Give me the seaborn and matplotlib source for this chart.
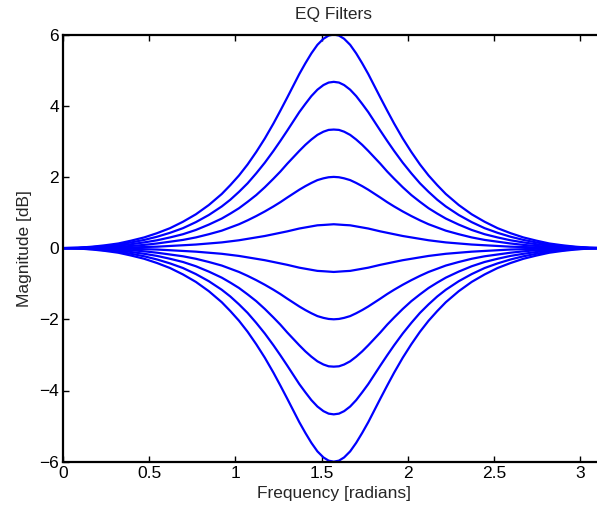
import numpy as np
import pandas as pd
import matplotlib
matplotlib.use("Agg")
import matplotlib.pyplot as plt
import seaborn as sns

# Frequency sample points (radians)
freq = [0, 0.086, 0.171, 0.246, 0.321, 0.396, 0.471, 0.546, 0.621, 0.696, 0.771, 0.846, 0.921,
        0.971, 1.021, 1.071, 1.121, 1.171, 1.221, 1.261, 1.301, 1.336, 1.371, 1.406, 1.441, 1.476,
        1.511, 1.541, 1.5708,
        1.601, 1.631, 1.666, 1.701, 1.736, 1.771, 1.806, 1.841, 1.881, 1.921, 1.971, 2.021, 2.071,
        2.121, 2.171, 2.221, 2.296, 2.371, 2.446, 2.521, 2.596, 2.671, 2.746, 2.821, 2.896, 2.971,
        3.056, 3.1416]

# Boost curves (dB)
boost_6_0 = [0, 0.01, 0.04, 0.08, 0.13, 0.21, 0.30, 0.42, 0.56, 0.74, 0.95, 1.21, 1.52, 1.77, 2.04,
             2.35, 2.70, 3.08, 3.50, 3.86, 4.23, 4.56, 4.89, 5.19, 5.47, 5.71, 5.88, 5.97, 6.00,
             5.97, 5.88, 5.71, 5.47, 5.19, 4.89, 4.56, 4.23, 3.86, 3.50, 3.08, 2.70, 2.35, 2.04,
             1.77, 1.52, 1.21, 0.95, 0.74, 0.56, 0.42, 0.30, 0.21, 0.13, 0.08, 0.04, 0.01, 0]
boost_4_7 = [0, 0.01, 0.03, 0.06, 0.10, 0.16, 0.23, 0.32, 0.43, 0.56, 0.73, 0.93, 1.17, 1.36, 1.58,
             1.82, 2.10, 2.40, 2.73, 3.01, 3.30, 3.56, 3.82, 4.05, 4.27, 4.45, 4.58, 4.65, 4.67,
             4.65, 4.58, 4.45, 4.27, 4.05, 3.82, 3.56, 3.30, 3.01, 2.73, 2.40, 2.10, 1.82, 1.58,
             1.36, 1.17, 0.93, 0.73, 0.56, 0.43, 0.32, 0.23, 0.16, 0.10, 0.06, 0.03, 0.01, 0]
boost_3_3 = [0, 0.00, 0.02, 0.04, 0.07, 0.11, 0.16, 0.22, 0.30, 0.39, 0.51, 0.66, 0.83, 0.97, 1.12,
             1.30, 1.49, 1.71, 1.95, 2.15, 2.37, 2.55, 2.73, 2.90, 3.05, 3.18, 3.27, 3.32, 3.33,
             3.32, 3.27, 3.18, 3.05, 2.90, 2.73, 2.55, 2.37, 2.15, 1.95, 1.71, 1.49, 1.30, 1.12,
             0.97, 0.83, 0.66, 0.51, 0.39, 0.30, 0.22, 0.16, 0.11, 0.07, 0.04, 0.02, 0.00, 0]
boost_2_0 = [0, 0.00, 0.01, 0.02, 0.04, 0.06, 0.09, 0.13, 0.18, 0.23, 0.30, 0.39, 0.49, 0.58, 0.67,
             0.78, 0.90, 1.03, 1.17, 1.29, 1.42, 1.53, 1.64, 1.74, 1.83, 1.91, 1.96, 1.99, 2.00,
             1.99, 1.96, 1.91, 1.83, 1.74, 1.64, 1.53, 1.42, 1.29, 1.17, 1.03, 0.90, 0.78, 0.67,
             0.58, 0.49, 0.39, 0.30, 0.23, 0.18, 0.13, 0.09, 0.06, 0.04, 0.02, 0.01, 0.00, 0]
boost_0_7 = [0, 0.00, 0.00, 0.01, 0.01, 0.02, 0.03, 0.04, 0.06, 0.08, 0.10, 0.13, 0.16, 0.19, 0.22,
             0.26, 0.30, 0.34, 0.39, 0.43, 0.47, 0.51, 0.55, 0.58, 0.61, 0.64, 0.65, 0.66, 0.67,
             0.66, 0.65, 0.64, 0.61, 0.58, 0.55, 0.51, 0.47, 0.43, 0.39, 0.34, 0.30, 0.26, 0.22,
             0.19, 0.16, 0.13, 0.10, 0.08, 0.06, 0.04, 0.03, 0.02, 0.01, 0.01, 0.00, 0.00, 0]

# Cut curves (dB): mirror images of the boosts in the chart
cut_0_7 = [-v for v in boost_0_7]
cut_2_0 = [-v for v in boost_2_0]
cut_3_3 = [-v for v in boost_3_3]
cut_4_7 = [-v for v in boost_4_7]
cut_6_0 = [-v for v in boost_6_0]

curves = {
    "+6.0": boost_6_0, "+4.7": boost_4_7, "+3.3": boost_3_3, "+2.0": boost_2_0, "+0.7": boost_0_7,
    "-0.7": cut_0_7, "-2.0": cut_2_0, "-3.3": cut_3_3, "-4.7": cut_4_7, "-6.0": cut_6_0,
}

xticks = [0, 0.5, 1, 1.5, 2, 2.5, 3]
yticks = [-6, -4, -2, 0, 2, 4, 6]

rows = []
for name, vals in curves.items():
    n = min(len(freq), len(vals))
    for f, v in zip(freq[:n], vals[:n]):
        rows.append({"freq": f, "mag": v, "curve": name})
df = pd.DataFrame(rows)

sns.set_style("ticks")
plt.rcParams["font.family"] = ["Liberation Sans", "DejaVu Sans"]
plt.rcParams["axes.unicode_minus"] = True

fig = plt.figure(figsize=(5.97, 5.13), dpi=100)
W, H = 597, 513
ax = fig.add_axes([63 / W, (H - 461.7) / H, (604.5 - 63) / W, (461.7 - 34.5) / H])

sns.lineplot(data=df, x="freq", y="mag", hue="curve", palette=["#0000ff"] * len(curves),
             legend=False, linewidth=1.6, ax=ax, sort=False, estimator=None)

ax.set_xlim(0, np.pi)
ax.set_ylim(-6, 6)
ax.set_xticks(xticks)
ax.set_xticklabels([f"{t:g}" for t in xticks])
ax.set_yticks(yticks)
ax.set_yticklabels([f"{t:g}".replace("-", "\u2212") for t in yticks])

for s in ax.spines.values():
    s.set_visible(True)
    s.set_linewidth(1.6)
    s.set_color("black")
ax.tick_params(direction="in", length=4, width=1.0, top=True, right=True,
               labelsize=12.5, colors="black", pad=3)
ax.set_xlabel("Frequency [radians]", fontsize=12.5, labelpad=4)
ax.set_ylabel("Magnitude [dB]", fontsize=12.5, labelpad=5)
ax.set_title("EQ Filters", fontsize=12.5, pad=11)

fig.savefig("out.png", dpi=100)
